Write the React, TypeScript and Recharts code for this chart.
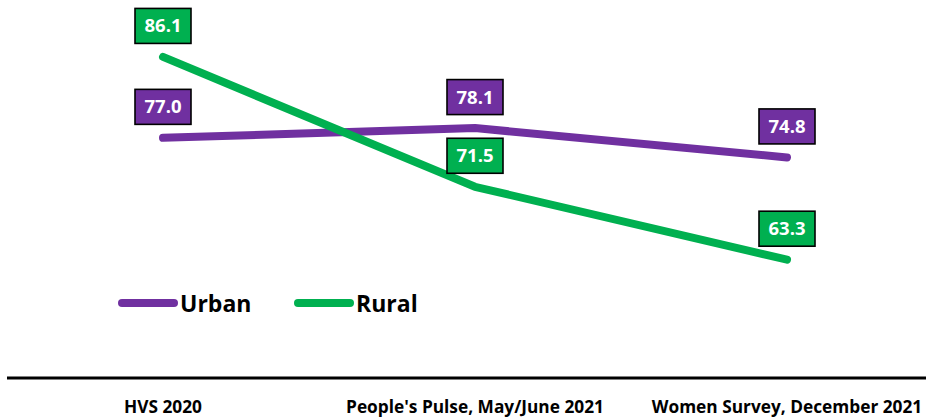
import React from "react";
import { LineChart, Line, XAxis, YAxis, LabelList } from "recharts";

const categories = ["HVS 2020", "People's Pulse, May/June 2021", "Women Survey, December 2021"];
const urbanValues = [77.0, 78.1, 74.8];
const ruralValues = [86.1, 71.5, 63.3];
const seriesNames = ["Urban", "Rural"];
const seriesColors = ["#7030A0", "#00B050"];

const data = categories.map((c, i) => ({ name: c, Urban: urbanValues[i], Rural: ruralValues[i] }));

const FONT = "'Open Sans', sans-serif";

const makeLabel = (fill: string) => (props: any) => {
  const { x, y, value } = props;
  const w = 56;
  const h = 35;
  const cy = y - 31;
  return (
    <g>
      <rect x={x - w / 2} y={cy - h / 2} width={w} height={h} fill={fill} stroke="#000" strokeWidth={1.6} />
      <text x={x} y={cy} dy={6.5} textAnchor="middle" fill="#fff" fontFamily={FONT} fontWeight={700} fontSize={18.5}>
        {Number(value).toFixed(1)}
      </text>
    </g>
  );
};

const Tick = (props: any) => {
  const { x, y, payload } = props;
  return (
    <text x={x} y={y} dy={35} textAnchor="middle" fill="#000" fontFamily={FONT} fontWeight={700} fontSize={17.3}>
      {payload.value}
    </text>
  );
};

export default function App() {
  const legendPos = [118, 294];
  return (
    <div style={{ position: "absolute", left: 0, top: 0, width: 926, height: 419, overflow: "hidden", background: "#fff" }}>
      <LineChart width={943} height={419} data={data} margin={{ top: 0, right: 0, bottom: 0, left: 7 }}>
        <XAxis
          dataKey="name"
          height={41}
          padding={{ left: 156, right: 156 }}
          axisLine={{ stroke: "#000", strokeWidth: 3 }}
          tickLine={false}
          tickSize={0}
          tickMargin={0}
          interval={0}
          tick={<Tick />}
        />
        <YAxis hide domain={[50, 92.5]} />
        <Line
          dataKey="Urban"
          stroke={seriesColors[0]}
          strokeWidth={8}
          strokeLinecap="round"
          strokeLinejoin="round"
          dot={false}
          isAnimationActive={false}
        >
          <LabelList dataKey="Urban" content={makeLabel(seriesColors[0])} />
        </Line>
        <Line
          dataKey="Rural"
          stroke={seriesColors[1]}
          strokeWidth={8}
          strokeLinecap="round"
          strokeLinejoin="round"
          dot={false}
          isAnimationActive={false}
        >
          <LabelList dataKey="Rural" content={makeLabel(seriesColors[1])} />
        </Line>
      </LineChart>
      {seriesNames.map((n, i) => (
        <div
          key={n}
          style={{ position: "absolute", left: legendPos[i], top: 286, height: 34, display: "flex", alignItems: "center" }}
        >
          <svg width={60} height={12} style={{ display: "block" }}>
            <line x1={4} y1={6} x2={56} y2={6} stroke={seriesColors[i]} strokeWidth={8} strokeLinecap="round" />
          </svg>
          <span style={{ fontFamily: FONT, fontWeight: 700, fontSize: 23, color: "#000", marginLeft: 2, lineHeight: "34px" }}>
            {n}
          </span>
        </div>
      ))}
    </div>
  );
}
